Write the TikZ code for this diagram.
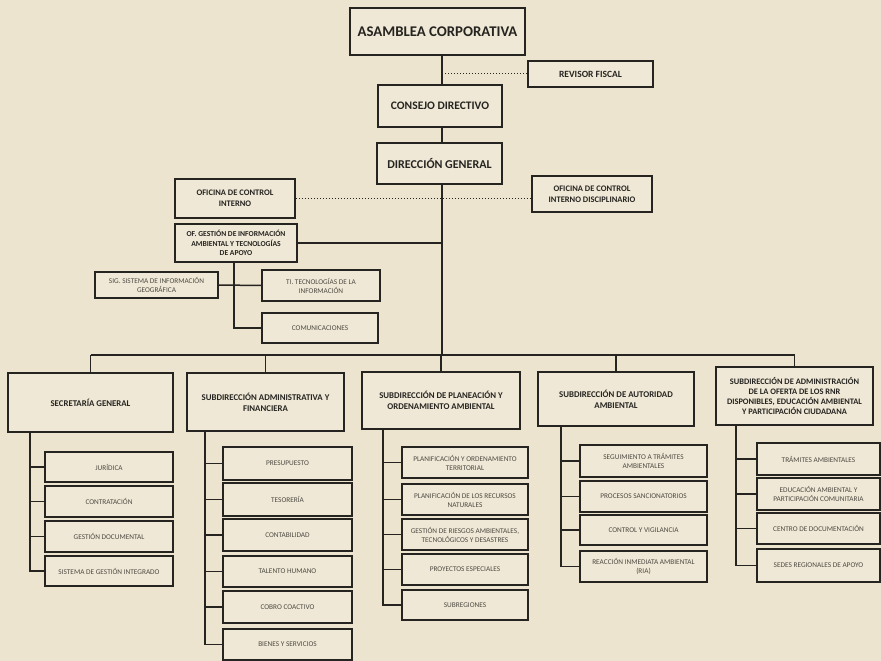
\documentclass[tikz,border=0pt]{standalone}
\usepackage{fontspec}
\setmainfont{Carlito}
\definecolor{bg}{HTML}{ECE4CF}
\definecolor{boxfill}{HTML}{EFE8D6}
\definecolor{ink}{HTML}{262420}
\definecolor{soft}{HTML}{4E4A42}
\tikzset{
  topbox/.style={draw=ink, line width=2pt, fill=boxfill, align=center, inner sep=1pt, text=ink, font=\bfseries},
  headbox/.style={draw=ink, line width=1.8pt, fill=boxfill, align=center, inner sep=1pt, text=ink, font=\bfseries\fontsize{8.8}{11}\selectfont},
  childbox/.style={draw=ink, line width=1.6pt, fill=boxfill, align=center, inner sep=1pt, text=soft, font=\fontsize{7.3}{9}\selectfont},
  conn/.style={draw=ink, line width=1.5pt},
  dotconn/.style={draw=ink, line width=1pt, dotted}
}
\begin{document}
\begin{tikzpicture}[x=1pt,y=-1pt]
\path[fill=bg] (0,0) rectangle (881,661);
\useasboundingbox (0,0) rectangle (881,661);
\coordinate (trk) at (442,355);

% top level
\node[topbox, minimum width=175pt, minimum height=47pt, font=\bfseries\fontsize{14.8}{17}\selectfont] (asam) at (437.5,31.5) {ASAMBLEA CORPORATIVA};
\node[topbox, minimum width=125pt, minimum height=26pt, font=\bfseries\fontsize{9.5}{11}\selectfont] (rev) at (590.5,74) {REVISOR FISCAL};
\node[topbox, minimum width=124pt, minimum height=42pt, font=\bfseries\fontsize{11.5}{13}\selectfont] (cons) at (440,106) {CONSEJO DIRECTIVO};
\node[topbox, minimum width=125pt, minimum height=41pt, font=\bfseries\fontsize{12}{14}\selectfont] (dir) at (439.5,163.5) {DIRECCIÓN GENERAL};
\node[topbox, line width=1.8pt, minimum width=120pt, minimum height=39pt, font=\bfseries\fontsize{8.5}{11}\selectfont] (oci) at (235,198.5) {OFICINA DE CONTROL\\INTERNO};
\node[topbox, line width=1.8pt, minimum width=120pt, minimum height=36pt, font=\bfseries\fontsize{8.5}{11}\selectfont] (ocid) at (592,194) {OFICINA DE CONTROL\\INTERNO DISCIPLINARIO};
\node[topbox, line width=1.8pt, minimum width=122pt, minimum height=38pt, font=\bfseries\fontsize{7.6}{9.5}\selectfont] (ofg) at (236,243) {OF. GESTIÓN DE INFORMACIÓN\\AMBIENTAL Y TECNOLOGÍAS\\DE APOYO};
\node[childbox, minimum width=123pt, minimum height=26pt, font=\fontsize{7.3}{9}\selectfont] (sig) at (156.5,285) {SIG. SISTEMA DE INFORMACIÓN\\GEOGRÁFICA};
\node[childbox, minimum width=118pt, minimum height=31pt, font=\fontsize{7.3}{9}\selectfont] (ti) at (321,285.5) {TI. TECNOLOGÍAS DE LA\\INFORMACIÓN};
\node[childbox, minimum width=116pt, minimum height=30pt] (com) at (320,328) {COMUNICACIONES};

% top connectors
\draw[conn] (asam.south -| trk) -- (cons.north -| trk);
\draw[conn] (cons.south -| trk) -- (dir.north -| trk);
\draw[conn] (dir.south -| trk) -- (trk);
\draw[dotconn] (rev.west -| trk) -- (rev.west);
\draw[dotconn] (oci.east) -- (oci.east -| ocid.west);
\draw[conn] (ofg.east) -- (ofg.east -| trk);
\coordinate (ofgT) at (234,262);
\draw[conn] (ofgT) |- (com.west);
\draw[conn] (sig.east) -- (ti.west);

% second level
\node[headbox, minimum width=165pt, minimum height=59pt] (sec) at (90.5,402.5) {SECRETARÍA GENERAL};
\node[headbox, minimum width=157pt, minimum height=58pt] (sadm) at (265.5,402) {SUBDIRECCIÓN ADMINISTRATIVA Y\\FINANCIERA};
\node[headbox, minimum width=158pt, minimum height=57pt] (spla) at (441,400.5) {SUBDIRECCIÓN DE PLANEACIÓN Y\\ORDENAMIENTO AMBIENTAL};
\node[headbox, minimum width=156pt, minimum height=54pt] (saut) at (616,399) {SUBDIRECCIÓN DE AUTORIDAD\\AMBIENTAL};
\node[headbox, minimum width=157pt, minimum height=58pt, font=\bfseries\fontsize{8.4}{10}\selectfont] (sofe) at (794.5,396) {SUBDIRECCIÓN DE ADMINISTRACIÓN\\DE LA OFERTA DE LOS RNR\\DISPONIBLES, EDUCACIÓN AMBIENTAL\\Y PARTICIPACIÓN CIUDADANA};

\draw[conn] (sec.north |- trk) -- (sofe.north |- trk);
\foreach \n in {sec,sadm,spla,saut,sofe} \draw[conn] (\n.north) -- (\n.north |- trk);

% Secretaria children
\node[childbox, minimum width=128pt, minimum height=30pt] (jur) at (109,467) {JURÍDICA};
\node[childbox, minimum width=128pt, minimum height=31pt] (cont) at (109,501.5) {CONTRATACIÓN};
\node[childbox, minimum width=128pt, minimum height=31pt] (gdoc) at (109,536.5) {GESTIÓN DOCUMENTAL};
\node[childbox, minimum width=128pt, minimum height=30pt] (sgi) at (109,571) {SISTEMA DE GESTIÓN INTEGRADO};
\coordinate (secT) at (30,432);
\draw[conn] (secT) |- (sgi.west);
\foreach \c in {jur,cont,gdoc} \draw[conn] (\c.west -| secT) -- (\c.west);

% Sub administrativa children
\node[childbox, minimum width=129pt, minimum height=33pt] (pres) at (287.5,463.5) {PRESUPUESTO};
\node[childbox, minimum width=129pt, minimum height=33pt] (teso) at (287.5,499.5) {TESORERÍA};
\node[childbox, minimum width=129pt, minimum height=32pt] (conta) at (287.5,535) {CONTABILIDAD};
\node[childbox, minimum width=129pt, minimum height=31pt] (tal) at (287.5,571.5) {TALENTO HUMANO};
\node[childbox, minimum width=129pt, minimum height=32pt] (cobro) at (287.5,607) {COBRO COACTIVO};
\node[childbox, minimum width=129pt, minimum height=31pt] (bien) at (287.5,644.5) {BIENES Y SERVICIOS};
\coordinate (admT) at (205,431);
\draw[conn] (admT) |- (bien.west);
\foreach \c in {pres,teso,conta,tal,cobro} \draw[conn] (\c.west -| admT) -- (\c.west);

% Sub planeacion children
\node[childbox, minimum width=126pt, minimum height=31pt] (pot) at (465,462.5) {PLANIFICACIÓN Y ORDENAMIENTO\\TERRITORIAL};
\node[childbox, minimum width=126pt, minimum height=31pt] (prn) at (465,499.5) {PLANIFICACIÓN DE LOS RECURSOS\\NATURALES};
\node[childbox, minimum width=126pt, minimum height=31pt] (grad) at (465,534.5) {GESTIÓN DE RIESGOS AMBIENTALES,\\TECNOLÓGICOS Y DESASTRES};
\node[childbox, minimum width=126pt, minimum height=31pt] (pesp) at (465,569.5) {PROYECTOS ESPECIALES};
\node[childbox, minimum width=126pt, minimum height=30pt] (subr) at (465,605) {SUBREGIONES};
\coordinate (plaT) at (383,429);
\draw[conn] (plaT) |- (subr.west);
\foreach \c in {pot,prn,grad,pesp} \draw[conn] (\c.west -| plaT) -- (\c.west);

% Sub autoridad children
\node[childbox, minimum width=127pt, minimum height=32pt] (seg) at (643.5,461) {SEGUIMIENTO A TRÁMITES\\AMBIENTALES};
\node[childbox, minimum width=127pt, minimum height=31pt] (proc) at (643.5,496.5) {PROCESOS SANCIONATORIOS};
\node[childbox, minimum width=127pt, minimum height=30pt] (cyv) at (643.5,530) {CONTROL Y VIGILANCIA};
\node[childbox, minimum width=127pt, minimum height=31pt] (ria) at (643.5,566.5) {REACCIÓN INMEDIATA AMBIENTAL\\(RIA)};
\coordinate (autT) at (561,426);
\draw[conn] (autT) |- (ria.west);
\foreach \c in {seg,proc,cyv} \draw[conn] (\c.west -| autT) -- (\c.west);

% Sub oferta children
\node[childbox, minimum width=123pt, minimum height=32pt] (tram) at (818.5,459) {TRÁMITES AMBIENTALES};
\node[childbox, minimum width=123pt, minimum height=32pt] (edu) at (818.5,494) {EDUCACIÓN AMBIENTAL Y\\PARTICIPACIÓN COMUNITARIA};
\node[childbox, minimum width=123pt, minimum height=31pt] (cdoc) at (818.5,528.5) {CENTRO DE DOCUMENTACIÓN};
\node[childbox, minimum width=123pt, minimum height=33pt] (sedes) at (818.5,565.5) {SEDES REGIONALES DE APOYO};
\coordinate (ofeT) at (736,425);
\draw[conn] (ofeT) |- (sedes.west);
\foreach \c in {tram,edu,cdoc} \draw[conn] (\c.west -| ofeT) -- (\c.west);
\end{tikzpicture}
\end{document}
